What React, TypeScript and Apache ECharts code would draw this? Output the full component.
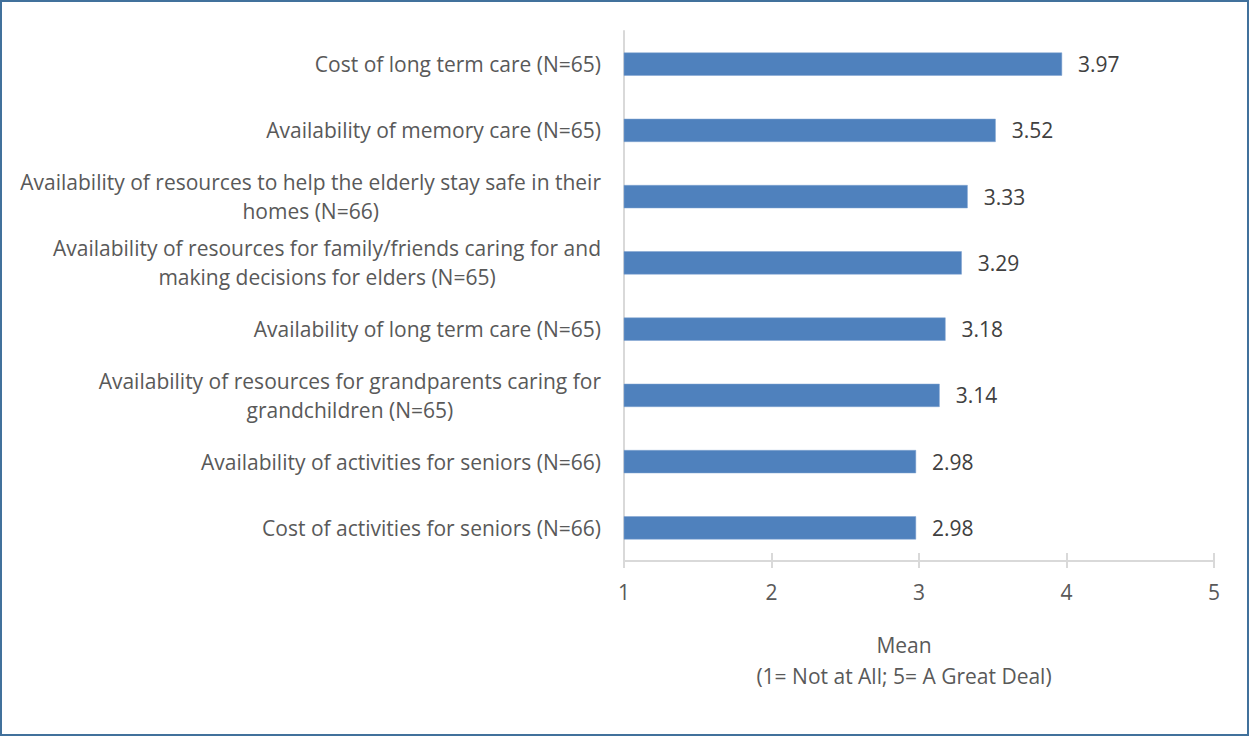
import React, { useEffect, useRef } from "react";
import * as echarts from "echarts";

const categories = [
  "Cost of long term care (N=65)",
  "Availability of memory care (N=65)",
  "Availability of resources to help the elderly stay safe in their\nhomes (N=66)",
  "Availability of resources for family/friends caring for and\nmaking decisions for elders (N=65)",
  "Availability of long term care (N=65)",
  "Availability of resources for grandparents caring for\ngrandchildren (N=65)",
  "Availability of activities for seniors (N=66)",
  "Cost of activities for seniors (N=66)",
];
const means = [3.97, 3.52, 3.33, 3.29, 3.18, 3.14, 2.98, 2.98];
const xMin = 1;
const xMax = 5;
const xStep = 1;
const axisTitle = "Mean\n(1= Not at All; 5= A Great Deal)";

const FONT = "'Open Sans', Lato, sans-serif";
const FS = 21;
const TEXT = "#595959";
const GRID_LINE = "#d9d9d9";
const BAR = "#4f81bd";

export default function App() {
  const ref = useRef<HTMLDivElement>(null);
  useEffect(() => {
    if (!ref.current) return;
    const chart = echarts.init(ref.current, null, { renderer: "svg" });
    chart.setOption({
      animation: false,
      backgroundColor: "#ffffff",
      grid: { left: 624, right: 35, top: 31, bottom: 175, containLabel: false },
      xAxis: [
        {
          type: "value",
          min: xMin,
          max: xMax,
          interval: xStep,
          position: "bottom",
          axisLine: { show: true, lineStyle: { color: GRID_LINE, width: 2 } },
          axisTick: { show: true, length: 7, lineStyle: { color: GRID_LINE, width: 2 } },
          splitLine: { show: false },
          axisLabel: { color: TEXT, fontSize: FS, fontFamily: FONT, margin: 20 },
          name: axisTitle,
          nameLocation: "middle",
          nameGap: 68,
          nameTextStyle: {
            color: TEXT,
            fontSize: FS,
            fontFamily: FONT,
            lineHeight: 31,
            padding: [0, 30, 0, 0],
          },
        },
        {
          type: "value",
          min: xMin,
          max: xMax,
          interval: xStep,
          position: "bottom",
          axisLine: { show: false },
          axisTick: { show: true, inside: true, length: 8, lineStyle: { color: GRID_LINE, width: 2 } },
          splitLine: { show: false },
          axisLabel: { show: false },
        },
      ],
      yAxis: {
        type: "category",
        data: categories,
        inverse: true,
        axisLine: { show: true, lineStyle: { color: GRID_LINE, width: 2 } },
        axisTick: { show: false },
        axisLabel: {
          color: TEXT,
          fontSize: FS,
          fontFamily: FONT,
          margin: 23,
          align: "right",
          lineHeight: 29,
          formatter: (v: string) =>
            v
              .split("\n")
              .map((l) => `{c|${l}}`)
              .join("\n"),
          rich: {
            c: { align: "center", color: TEXT, fontSize: FS, fontFamily: FONT, lineHeight: 29 },
          },
        },
      },
      series: [
        {
          type: "bar",
          data: means,
          xAxisIndex: 0,
          barWidth: "35%",
          itemStyle: { color: BAR, borderColor: "#7fa2d0", borderWidth: 0.5 },
          label: {
            show: true,
            position: "right",
            distance: 16,
            color: "#404040",
            fontSize: FS,
            fontFamily: FONT,
            formatter: (p: any) => Number(p.value).toFixed(2),
          },
        },
      ],
    });
    return () => chart.dispose();
  }, []);
  return (
    <div style={{ position: "absolute", left: 0, top: 0, width: 1249, height: 736 }}>
      <div ref={ref} style={{ position: "absolute", left: 0, top: 0, width: 1249, height: 736 }} />
      <div
        style={{
          position: "absolute",
          left: 0,
          top: 0,
          width: 1249,
          height: 736,
          boxSizing: "border-box",
          border: "2px solid #41719c",
          pointerEvents: "none",
        }}
      />
    </div>
  );
}
